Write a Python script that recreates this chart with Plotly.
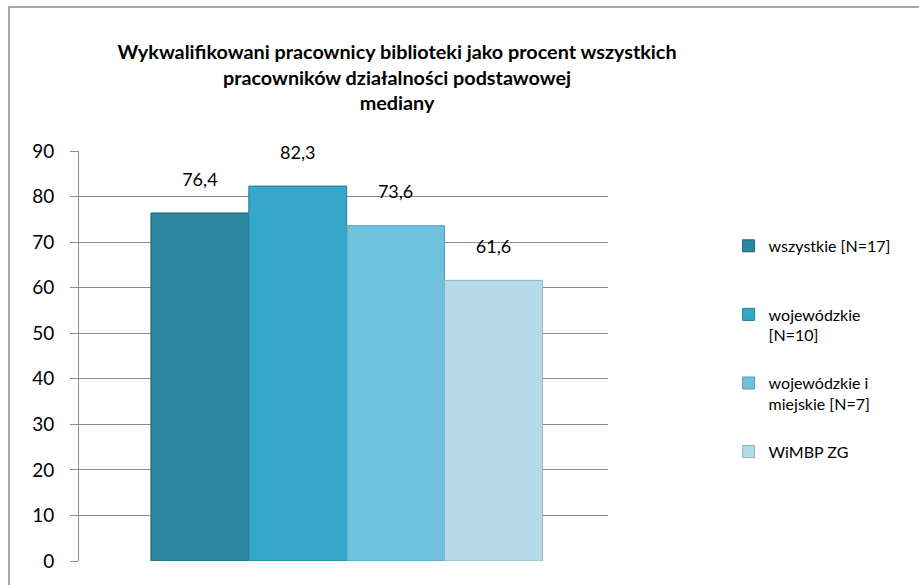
import plotly.graph_objects as go

# data
series_names = ["wszystkie [N=17]<br>\u00a0", "wojewódzkie<br>[N=10]", "wojewódzkie i<br>miejskie [N=7]", "WiMBP ZG"]
series_values = [76.4, 82.3, 73.6, 61.6]
series_colors = ["#2b87a0", "#35a8c9", "#70c1dd", "#b5dbeb"]
edge_colors = ["#1f6577", "#247f99", "#4f9bb5", "#8ab3c4"]
category = [""]

FONT = "Lato"

fig = go.Figure()
for i, (name, val, col, edge) in enumerate(zip(series_names, series_values, series_colors, edge_colors)):
    fig.add_trace(go.Bar(
        x=category, y=[val], name=name, legendgroup=f"g{i}",
        marker=dict(color=col, line=dict(color=edge, width=1)),
        text=[f"{val:.1f}".replace(".", ",")],
        texttemplate="%{text}<br><span style='font-size:6px'>\u00a0</span>",
        textposition="outside",
        textfont=dict(size=18, color="#000000", family=FONT),
        cliponaxis=False,
    ))

fig.update_layout(
    width=919, height=585,
    paper_bgcolor="white", plot_bgcolor="white",
    margin=dict(l=79, r=311, t=151, b=24),
    barmode="group", bargap=0.26, bargroupgap=0,
    title=dict(
        text="Wykwalifikowani pracownicy biblioteki jako procent wszystkich<br>pracowników działalności podstawowej<br>mediany",
        x=397 / 919, xanchor="center", y=1 - 59 / 585, yanchor="top",
        font=dict(size=19.8, family=FONT, color="#000000", weight="bold"),
    ),
    font=dict(family=FONT, color="#000000"),
    showlegend=True,
    legend=dict(
        x=1.228, y=0.81, xanchor="left", yanchor="top",
        font=dict(size=16, family=FONT, color="#000000"),
        tracegroupgap=24, itemwidth=30, valign="top",
        bgcolor="rgba(0,0,0,0)",
    ),
    yaxis=dict(
        range=[0, 90], dtick=10, showgrid=True, gridcolor="#8c8c8c", gridwidth=1,
        showline=True, linecolor="#8c8c8c", linewidth=1,
        ticks="outside", ticklen=8, tickcolor="#8c8c8c",
        tickfont=dict(size=19, family=FONT, color="#000000"),
        ticklabelstandoff=12,
        zeroline=False,
    ),
    xaxis=dict(range=[-0.506, 0.494], showticklabels=False, ticks="", showline=False, showgrid=False),
    shapes=[dict(type="rect", xref="paper", yref="paper",
                 x0=-70 / 529, x1=1.7, y0=-0.2, y1=1 + 144 / 410,
                 line=dict(color="#8c8c8c", width=1.5))],
)

fig.write_html("out.html", config={"displayModeBar": False},
               post_script="document.body.style.margin='0';")
